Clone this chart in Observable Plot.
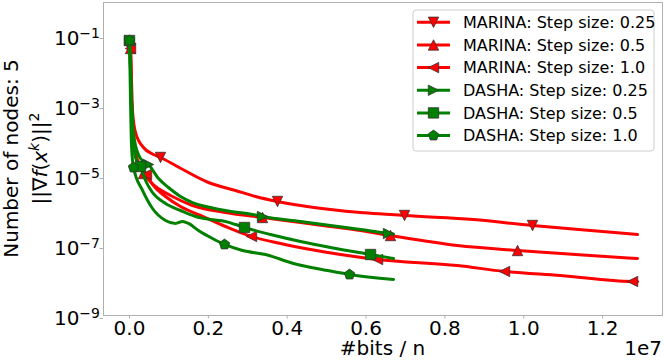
<!DOCTYPE html>
<html><head><meta charset="utf-8">
<script src="https://cdn.jsdelivr.net/npm/d3@7"></script>
<script src="https://cdn.jsdelivr.net/npm/@observablehq/plot@0.6"></script>
<style>
html,body{margin:0;padding:0;background:#fff;}
#chart svg{display:block;}
</style>
</head><body><div id="chart"></div>
<script>
// x: #bits / n, in units of 1e7 ; y: ||grad f(x^k)||^2
const xM025 = [0.0025,0.0051,0.0076,0.0152,0.0355,0.0609,0.0786,0.1167,0.2004,0.2689,0.3196,0.3754,0.4338,0.5099,0.5860,0.6621,0.6976,0.8727,1.0223,1.1695,1.2887];
const yM025 = [0.0425,0.00518,7.2e-4,1.69e-4,6.31e-5,3.98e-5,3.27e-5,1.93e-5,6.31e-6,3.73e-6,2.51e-6,1.81e-6,1.39e-6,1.07e-6,8.77e-7,7.69e-7,7.2e-7,5.53e-7,3.73e-7,2.68e-7,2.06e-7];
const mkM025 = [0,6,11,16,18];

const xM05 = [0.0025,0.0051,0.0101,0.0203,0.0355,0.0660,0.1040,0.1598,0.2435,0.3374,0.4338,0.5099,0.5860,0.6621,0.8321,0.9843,1.1695,1.2887];
const yM05 = [0.0425,0.00139,1e-4,2.35e-5,1.14e-5,4.85e-6,2.68e-6,1.39e-6,8.77e-7,6.31e-7,4.54e-7,3.49e-7,2.68e-7,1.93e-7,1.0e-7,7.2e-8,5.18e-8,4.26e-8];
const mkM05 = [0,4,9,13,15];

const xM10 = [0.0025,0.0051,0.0127,0.0254,0.0431,0.0583,0.0913,0.1294,0.1801,0.2435,0.3095,0.3831,0.4592,0.5353,0.6291,0.8321,0.9513,1.0933,1.2760,1.2887];
const yM10 = [0.0425,0.00139,7.2e-5,1.93e-5,1.07e-5,5.53e-6,2.51e-6,1.30e-6,7.2e-7,3.49e-7,1.81e-7,1.14e-7,7.69e-8,5.53e-8,3.98e-8,2.68e-8,1.81e-8,1.39e-8,9.36e-9,9.36e-9];
const mkM10 = [0,4,10,14,16,18];

const xD025 = [0,0.0051,0.0127,0.0279,0.0482,0.0736,0.0989,0.1294,0.1598,0.2055,0.2435,0.3120,0.3374,0.4338,0.5099,0.5860,0.6570,0.6697];
const yD025 = [0.072,0.00139,1e-4,3.06e-5,2.06e-5,8.2e-6,4.54e-6,2.51e-6,1.69e-6,1.22e-6,1.0e-6,7.69e-7,6.74e-7,4.85e-7,3.73e-7,2.86e-7,2.2e-7,2.13e-7];
const mkD025 = [0,4,12,16];

const xD05 = [0,0.0051,0.0101,0.0178,0.0279,0.0406,0.0583,0.0913,0.1294,0.1674,0.2055,0.2435,0.2689,0.2917,0.3577,0.4338,0.5099,0.6114,0.6697];
const yD05 = [0.072,0.00139,7.2e-5,2.68e-5,1.81e-5,7.2e-6,3.27e-6,1.58e-6,1.0e-6,6.74e-7,5.53e-7,4.85e-7,3.98e-7,3.27e-7,2.06e-7,1.30e-7,8.77e-8,5.53e-8,4.26e-8];
const mkD05 = [0,4,13,17];

const xD10 = [0,0.0025,0.0051,0.0101,0.0330,0.0583,0.0913,0.1167,0.1344,0.1497,0.1750,0.2106,0.2410,0.2867,0.3450,0.4160,0.5023,0.5581,0.6697];
const yD10 = [0.072,0.00139,7.2e-5,1.69e-5,3.73e-6,1.14e-6,5.18e-7,4.26e-7,4.85e-7,4.26e-7,2.68e-7,1.58e-7,1.07e-7,7.2e-8,5.53e-8,3.06e-8,1.93e-8,1.48e-8,1.07e-8];
const mkD10 = [0,3,12,17];

const seriesLabels = ["MARINA: Step size: 0.25","MARINA: Step size: 0.5","MARINA: Step size: 1.0","DASHA: Step size: 0.25","DASHA: Step size: 0.5","DASHA: Step size: 1.0"];
const seriesColors = ["#ff0000","#ff0000","#ff0000","#008000","#008000","#008000"];
const xTicks = [0,0.2,0.4,0.6,0.8,1.0,1.2];
const yTicks = [1e-1,1e-3,1e-5,1e-7,1e-9];
const xLabel = "#bits / n";
const xOffsetLabel = "1e7";
const yLabel1 = "Number of nodes: 5";

// matplotlib-like marker shapes
function sym(pointsFn){ return {draw(ctx,size){ const r=Math.sqrt(size/Math.PI); const p=pointsFn(r); ctx.moveTo(p[0][0],p[0][1]); for(let i=1;i<p.length;i++) ctx.lineTo(p[i][0],p[i][1]); ctx.closePath(); }}; }
const triDown = sym(r=>[[0,r],[-r,-r],[r,-r]]);
const triUp = sym(r=>[[0,-r],[-r,r],[r,r]]);
const triLeft = sym(r=>[[-r,0],[r,-r],[r,r]]);
const triRight = sym(r=>[[r,0],[-r,-r],[-r,r]]);
const square = sym(r=>[[-r,-r],[r,-r],[r,r],[-r,r]]);
const pentagon = sym(r=>d3.range(5).map(k=>{const a=(-90+72*k)*Math.PI/180; return [1.05*r*Math.cos(a),1.05*r*Math.sin(a)];}));
const symbols = [triDown,triUp,triLeft,triRight,square,pentagon];

const seriesX = [xM025,xM05,xM10,xD025,xD05,xD10];
const seriesY = [yM025,yM05,yM10,yD025,yD05,yD10];
const seriesMk = [mkM025,mkM05,mkM10,mkD025,mkD05,mkD10];

const marks = [
  Plot.frame({stroke:"#b0b0b0", strokeWidth:1}),
  Plot.axisX({ticks:xTicks, tickFormat:d=>d.toFixed(1), tickSize:3.5, tickPadding:2, stroke:"#b0b0b0", fill:"black", fontSize:20, label:null}),
  Plot.axisY({ticks:yTicks, tickFormat:d=>String(Math.round(Math.log10(d))), tickSize:3.5, tickPadding:0, stroke:"#b0b0b0", fill:"black", fontSize:20, label:null, dy:3})
];
seriesLabels.forEach((lab,s)=>{
  const pts = seriesX[s].map((x,i)=>({x, y:seriesY[s][i], i, series:lab}));
  marks.push(Plot.line(pts,{x:"x", y:"y", stroke:seriesColors[s], strokeWidth:3, curve:"monotone-x"}));
  marks.push(Plot.dot(pts.filter(d=>seriesMk[s].includes(d.i)),{x:"x", y:"y", symbol:symbols[s], r:5.2, fill:seriesColors[s], stroke:"#333", strokeWidth:0.8}));
});

const chart = Plot.plot({
  width:664, height:360,
  marginLeft:103, marginRight:2, marginTop:2, marginBottom:45,
  x:{domain:[-0.066,1.352], label:null},
  y:{type:"log", domain:[1e-9, Math.pow(10,-0.057)], label:null},
  style:{fontFamily:"DejaVu Sans", fontSize:"20px", background:"white", color:"black", overflow:"visible"},
  marks
});
document.getElementById("chart").appendChild(chart);

const svg = d3.select(chart);
svg.attr("font-family","DejaVu Sans");
// superscript exponents on y tick labels
svg.selectAll('g[aria-label="y-axis tick label"] text').each(function(){
  const e = this.textContent; this.textContent = "";
  const t = d3.select(this);
  t.append("tspan").text("10");
  t.append("tspan").attr("dy",-6.7).attr("font-size",14).text(e.replace("-","\u2212"));
});

// axis labels
svg.append("text").attr("x",382.5).attr("y",354.5).attr("text-anchor","middle").attr("font-size",20).attr("fill","black").text(xLabel);
svg.append("text").attr("x",662).attr("y",354.5).attr("text-anchor","end").attr("font-size",20).attr("fill","black").text(xOffsetLabel);
svg.append("text").attr("transform","translate(18,158.5) rotate(-90)").attr("text-anchor","middle").attr("font-size",20).attr("fill","black").text(yLabel1);
const yl2 = svg.append("text").attr("transform","translate(47,158.5) rotate(-90)").attr("text-anchor","middle").attr("font-size",20).attr("fill","black");
yl2.append("tspan").text("||\u2207");
yl2.append("tspan").attr("font-style","italic").text("f");
yl2.append("tspan").text("(");
yl2.append("tspan").attr("font-style","italic").text("x");
yl2.append("tspan").attr("font-style","italic").attr("font-size",14).attr("dy",-8).text("k");
yl2.append("tspan").attr("dy",8).text(")||");
yl2.append("tspan").attr("font-size",14).attr("dy",-8).text("2");

// legend
const lg = svg.append("g");
lg.append("rect").attr("x",413).attr("y",10).attr("width",241).attr("height",141).attr("rx",3).attr("fill","white").attr("fill-opacity",0.8).attr("stroke","#cccccc").attr("stroke-width",1);
seriesLabels.forEach((lab,s)=>{
  const cy = 22.3 + s*22.65;
  lg.append("line").attr("x1",417).attr("x2",450).attr("y1",cy).attr("y2",cy).attr("stroke",seriesColors[s]).attr("stroke-width",3);
  lg.append("path").attr("transform",`translate(433.5,${cy})`).attr("d",d3.symbol(symbols[s], 5.2*5.2*Math.PI)()).attr("fill",seriesColors[s]).attr("stroke","#333").attr("stroke-width",0.8);
  lg.append("text").attr("x",463).attr("y",cy+5.8).attr("text-anchor","start").attr("font-size",16).attr("fill","black").text(lab);
});
</script>
</body></html>
